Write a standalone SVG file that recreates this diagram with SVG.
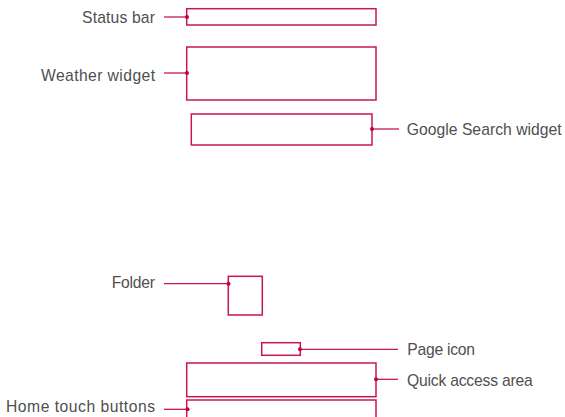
<svg xmlns="http://www.w3.org/2000/svg" width="565" height="417" viewBox="0 0 565 417">
<style>
.box{fill:none;stroke:#c8184c;stroke-width:1.5}
.ln{stroke:#c8184c;stroke-width:1.3;fill:none}
.dot{fill:#c2003c}
.t{font-family:"Liberation Sans",Arial,sans-serif;font-size:15.7px;fill:#4f4f4f}
.r{text-anchor:end}
</style>
<rect width="565" height="417" fill="#fff"/>
<g id="status-bar">
<rect class="box" x="186.7" y="8.7" width="189.3" height="16.3"/>
<text class="t" x="82" y="23.2" textLength="73" lengthAdjust="spacing">Status bar</text>
</g>
<g id="weather-widget">
<rect class="box" x="186.7" y="47" width="189.3" height="53"/>
<text class="t" x="41" y="80.5" textLength="114" lengthAdjust="spacing">Weather widget</text>
</g>
<g id="google-search-widget">
<rect class="box" x="191.3" y="114" width="180.7" height="31"/>
<text class="t" x="406.7" y="135" textLength="155" lengthAdjust="spacing">Google Search widget</text>
</g>
<g id="folder">
<rect class="box" x="228.3" y="276.3" width="34" height="38.7"/>
<text class="t" x="111.7" y="288" textLength="43.3" lengthAdjust="spacing">Folder</text>
</g>
<g id="page-icon">
<rect class="box" x="261.7" y="342.7" width="38.6" height="12.6"/>
<text class="t" x="407.3" y="355" textLength="67.7" lengthAdjust="spacing">Page icon</text>
</g>
<g id="quick-access-area">
<rect class="box" x="186.7" y="363" width="189.3" height="33.7"/>
<text class="t" x="407" y="385.5" textLength="125.7" lengthAdjust="spacing">Quick access area</text>
</g>
<g id="home-touch-buttons">
<path class="box" d="M186.7,418 V400 H376 V418"/>
<text class="t" x="6" y="412" textLength="149" lengthAdjust="spacing">Home touch buttons</text>
</g>
<g id="connectors">
<line class="ln" x1="164" y1="17" x2="187" y2="17"/><circle class="dot" cx="187" cy="17" r="2"/>
<line class="ln" x1="164" y1="73" x2="187" y2="73"/><circle class="dot" cx="187" cy="73" r="2"/>
<line class="ln" x1="372" y1="129" x2="399" y2="129"/><circle class="dot" cx="372" cy="129" r="2"/>
<line class="ln" x1="164" y1="283.7" x2="228.5" y2="283.7"/><circle class="dot" cx="228.5" cy="283.7" r="2"/>
<line class="ln" x1="300" y1="349.3" x2="398" y2="349.3"/><circle class="dot" cx="300" cy="349.3" r="2"/>
<line class="ln" x1="376" y1="379.3" x2="398" y2="379.3"/><circle class="dot" cx="376" cy="379.3" r="2"/>
<line class="ln" x1="164" y1="409.3" x2="187.5" y2="409.3"/><circle class="dot" cx="187.5" cy="409.3" r="2"/>
</g>
</svg>
